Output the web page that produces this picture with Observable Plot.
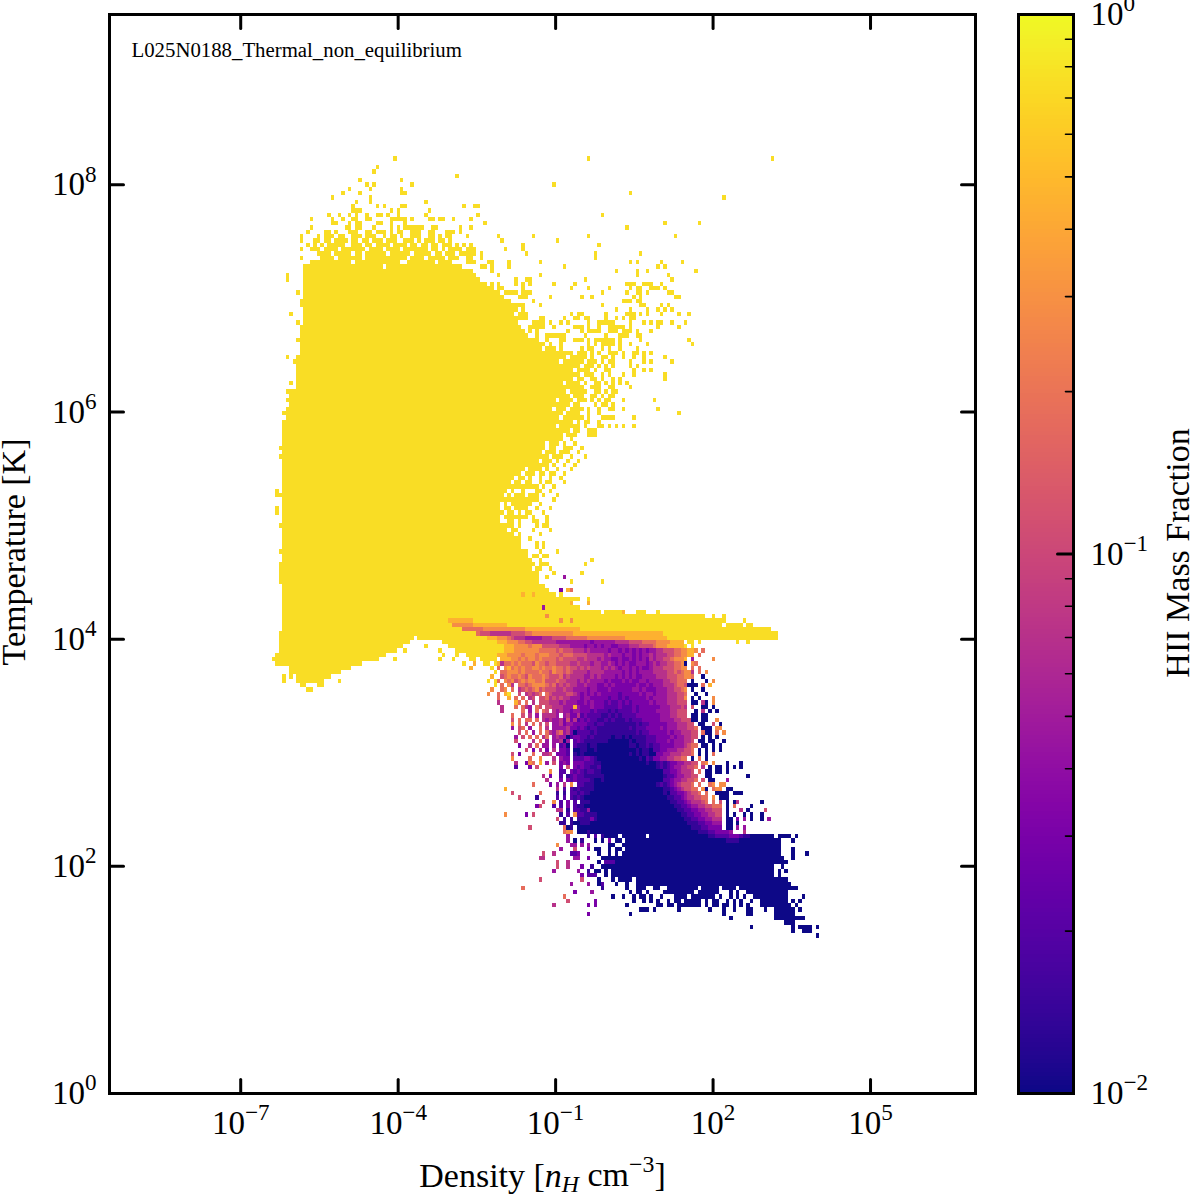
<!DOCTYPE html>
<html><head><meta charset="utf-8">
<style>html,body{margin:0;padding:0;background:#fff}svg{display:block}</style>
<script src="https://cdn.jsdelivr.net/npm/d3@7"></script>
<script src="https://cdn.jsdelivr.net/npm/@observablehq/plot@0.6"></script>
</head><body><div id="chart"></div>
<script>
const logDensityDomain=[-9.5,7], logTemperatureDomain=[0,9.5], binCount=250;
const densityTicks=[1e-7,1e-4,1e-1,1e2,1e5];
const temperatureTicks=[1,1e2,1e4,1e6,1e8];
const colorbarMajor=[0.01,0.1,1];
const colorbarMinor=[.02,.03,.04,.05,.06,.07,.08,.09,.2,.3,.4,.5,.6,.7,.8,.9];
const ionisedValue=0.74;
const hiiLevels=[0.01,0.014,0.02,0.03,0.045,0.07,0.11,0.18,0.28,0.45];
// 2D histogram. [temperature bin, first density bin, last density bin]
const ionisedSpans=[[93,57,58],[94,55,56],[94,60,61],[95,54,61],[96,54,63],[97,52,66],[98,52,69],[99,48,72],[100,47,77],[101,48,78],[102,49,81],[103,49,84],[104,49,86],[105,49,86],[105,89,192],[106,49,192],[107,50,190],[108,50,176],[109,50,174],[110,50,167],[111,50,137],[112,50,135],[113,50,133],[114,50,132],[115,50,128],[116,50,126],[117,50,124],[118,49,123],[119,49,122],[120,49,122],[121,49,121],[122,49,119],[123,50,120],[124,50,119],[125,50,118],[126,50,117],[127,50,116],[128,50,115],[129,50,114],[130,50,113],[131,50,112],[132,50,111],[133,50,111],[134,50,111],[135,50,111],[136,50,111],[137,50,112],[138,49,113],[139,50,114],[140,50,115],[141,50,115],[142,50,116],[143,50,118],[144,50,119],[145,50,121],[146,50,123],[147,50,124],[148,50,124],[149,50,125],[150,50,125],[151,50,125],[152,50,126],[153,50,126],[154,50,125],[155,51,125],[156,51,125],[157,51,125],[158,51,125],[159,52,126],[160,52,126],[161,52,127],[162,54,127],[163,54,128],[164,54,127],[165,54,127],[166,54,128],[167,54,128],[168,54,128],[169,54,128],[170,54,128],[171,55,127],[172,55,123],[173,55,122],[174,55,120],[175,55,120],[176,55,119],[177,55,118],[178,56,117],[179,56,117],[180,56,116],[181,56,116],[182,56,115],[183,56,114],[184,56,113],[185,56,112],[186,56,110],[187,56,108],[188,56,106],[189,56,105],[190,56,104]];
// scattered ionised cells per temperature bin
const ionisedScatter=[[216,"82 138 191"],[214,"77"],[213,"76"],[212,"100"],[211,"72 84"],[210,"74 76 87 128"],[209,"69 75 84"],[208,"67 72 84-85 150"],[207,"64 75 177"],[206,"71 75 91"],[205,"70 77 79 84-85 102 105-106"],[204,"70-72 81 83 92"],[203,"63 66 69 71 74 77-78 80 83 91 106 142"],[202,"58 64 67 70-71 74-75 81-85 87 92-93 95-96 99 104"],[201,"64-65 69 71-72 77-78 81 85 108 160 170"],[200,"58 68-69 71-72 76 81 83 85-90 93-94 101 104 149"],[199,"57 62-63 65 69-71 74-75 77-79 81 83-84 87-89 92-93 97-98 99 101"],[198,"55 60 62-64 66-67 70-72 74-76 79 81-82 84 87-89 92-93 95 97-98 103 112 122 138 163"],[197,"55 59-60 62-63 65-68 70-71 73-74 76-78 80-82 85-87 89 91-93 95-96 98 113 129"],[196,"57 59 61 63-67 70-72 74-75 77-80 82-85 87-88 90-91 93-94 96-98 100 102 104 119 141"],[195,"55 58-60 62-65 67-69 70-73 75-78 80-83 85-91 93-94 96 98-101 103-105 114 119"],[194,"60-63 65-69 71-72 74-79 81-86 88-92 94-95 97-99 101-105 107 120 140 153"],[193,"55 61-64 66-72 74-85 87-90 92-96 98-100 103-104 107 140"],[192,"58-69 71-83 86-93 95-98 103-105 109-110 115 124 150 152 159 165"],[191,"56-78 80-101 107-108 110 115 131 158 160"],[190,"110 146 152 155 169"],[189,"51 112 124 152 161"],[188,"51 117 120-121 137 162"],[187,"108 110 112 117 119 121 128 134 149-151 154-156 159"],[186,"112 113 119 133 138 144 150 152-153 156-158 160"],[185,"54 114-117 119-121 142 149 152-153 155 161-162"],[184,"118-120 127 136 139 151 153 163-164"],[183,"55 115 122 148-150 152-153"],[182,"55 116-119 124 142 153-154 159 161"],[181,"115 117 119 146 150 155 158 160 162"],[180,"52 118-120 133 135-136 143 149-151 153 155 159 164 167"],[179,"118-120 124-125 131 134-135 137-138 143 146 148 150-151"],[178,"54 122-125 127 130 132 138 141-145 150 154 156 158-159 162 166"],[177,"121-125 128 134-136 138 141 144-148 150 158 164"],[176,"119 121 123 132 136 138-141 144-146 148-150 152 156"],[175,"119-120 123 126-131 137 143 147-149 152-153"],[174,"54 120-121 122-123 126 130 131 134-136 138 140 141-145 147 153 167"],[173,"122-124 125 127 130 138 140 142-145 147 150 155 168"],
[172,"124 126-128 130 136 138-139 142 144 147 152"],[171,"128-133 135-137 139 141 144-146 148 151-152 154 156"],[170,"51 129-131 133-137 139 142-143 145 148 151 154 160"],[169,"53 129 131-136 138-140 142 144-145 150 154 156 162"],[168,"129-135 137-139 141 143 145 150 152"],[167,"129-133 135-138 140 143-144 151 154 156"],[166,"129-135 137-139 142 144 148 151 160"],[165,"128-133 135-136 139-140 142 145 147 160"],[164,"52 128-130 132-135 137 140-141 143 145 147 149"],[163,"129-136 139-141 144-145 150"],[162,"51-53 128-131 133-137 140-141 143 145-146"],[161,"128-132 134-136 139-140 142 144-145"],[160,"51 127-128 130-133 135-137 139 141 143-144 148 157"],[159,"127-132 134-135 140 142-143 145"],[158,"51 126-127 129-131 133-136 138 141 144-145 148 158"],[157,"50 126-130 132-135 138 141 164"],[156,"126-129 131-136 138 142-145 151"],[155,"50 126-133 135 137-138 141"],[154,"50 126-128 130-135 137 141-142 144 146 148 151"],[153,"127-132 134-135 138-140"],[152,"127-130 132-134 138-140"],[151,"126-130 133"],[150,"127-129 131 134"],[149,"49 127-128 131-133 136"],[148,"126-128 130-132 135"],[147,"49 125-126 128-130 133 137"],[146,"125-127 129 132 135"],[145,"122-125 126 128 131 134"],[144,"121-124 126 129 133"],[143,"120-122 124-125 127-128 131"],[142,"118-119 121 124 127 130"],[141,"117-118 120-121 124 126-127 131"],[140,"116-117 118-119 120-123 125 128"],[139,"48 116 119 123-124 127"],[138,"48 115 117-119 121-123 125 129"],[137,"113-115 116-119 120-123 128"],[136,"112 114 116-118 119-121 124"],[135,"48 112 114-115 117-120 123 127"],[134,"48 112-113 115-116 118 120-121 125"],[133,"112 114-118 119-120 122 126"],[132,"112 115-116 118 122-123 126"],[131,"49 113-116 118 123 125-126"],[130,"114 116-117 122 127"],[129,"115-116 118 124"],[128,"116-118 121"],[127,"115 117-118 123 125"],[126,"117-118 123 125"],[125,"49 119-120 124 129"],[124,"118-120 122-123 125-126"],[123,"120-121 124 139"],[122,"120-122 124-126 137"],[121,"123-124 127"],[120,"123 128 136"],[119,"123 126"],[118,"133 142"],[117,"125"],[116,"122 126"],[115,"125 130"],[114,"133-135 138"],[113,"138"],[111,"138-140 141 143-146 147 152-154 158"],[110,"168-170 171 174 177"],[109,"175-177 183"],[108,"178-179 180-182 184-185"],[105,"87"],[103,"91"],[102,"82 85 95"],[101,"75 79"],[100,"82 95 99"],[96,"50 52"],[95,"50 66"],[94,"61"]];
// [temperature bin, density bin, level]
const warmScatter=[[119,131,4],[116,130,3],[116,132,9],[116,133,7],[115,119,9],[115,122,9],[113,133,9],[113,138,9],[112,125,4],[111,148,9],[110,126,8],[109,130,8],[109,133,8]];
// cold-gas part of the histogram: ten density bins per chunk from coolStart; digits index hiiLevels, y = ionised
const coolStart=96, coolTop=109;
const coolRows=[
"  9999999 ",
"   8888889|999999999 ",
"      7777|7788888888|8888999999|9999999999",
"          |7666555555|6666778888|8888888899|9999999999|9999999999|9999",
"          |   9998887|6555444445|5566667777|7788888888|8889999999|99999",
"yyyyyyyyyy|yyyyyy9998|8877665555|5554444444|4443444444|5555666677|7788889999| yy y     |     y  y ",
"  yyyyyyyy|yyyyyyyy99|9888878886|6666555444|4344343443|3444555666|6788899999|y y       ",
"    yyyyyy|yyyyyyyy99|9888888877|7776766655|5454444434|4343434343|4455666778|8998 7    ",
"y   y  yyy|yyyyyy9998|8887888788|8777677766|6655555454|4434434344|5455566778|899 7     ",
"        yy| yyyyy 999|8878788787|7776766665|5655545443|3433434343|5455667888|9 4     8 ",
"      y  9|  yy y9577|8787776877|6776666556|5554554454|3434334443|4545566778|0 87      ",
"        9 |    y 7 89|7878778878|7787767665|6565554545|4344343433|4555666778|8 7 7     ",
"          |     y 778|8878777787|7687767655|5545555444|4434343444|4555566767|885 7 8   ",
"          |    9  678|7787687778|7666756555|5445454444|3434343344|4455566677|887  0    ",
"          |   y y7 87|8678788778|6667665554|5454444343|3343433443|4444556677|7 0   0 8 ",
"          |     y 7 8|5 77678888|7675656554|4544433434|3333334334|3444555677|6000 7 9  ",
"          |    8  78 |7 56767867|6665565544|4434433343|3333344343|3344455667|8 0  0    ",
"          |   8  7 9y|  6 56567 |7655556654|3434343333|3233333434|4344455566|7  0  0   ",
"          |      7  9| 7 7 56 66|7565655444|3443333323|3232333334|3444455566|8 0 0   8 ",
"          |      5   | 97 7 5 66|6555454443|3434333232|2323233333|4344455566|6 00 50 8 ",
"          |       5  | 7 754 76 |6655544494|3334333222|2322232333|3334445556|5 6  00 0 ",
"          |       5  |   7 4 7 7|6 54544344|3332322212|1222232333|3344445566|6  0 5 0 0",
"          |          |7  6 5 4 5|5554 45335|2322221121|2122223333|3334445566|6 00 00   ",
"          |          |6 7 77 7 5|4544536352|3232211212|1112122233|3334444556|6600 00  8",
"          |          |8 7 5 7 6 |6 44534433|3322122111|1111112122|3333344455|566 00  6 |0",
"          |          |4 67 4  7 |5 44445332|3212211111|1111212223|3334344455|5667 000 8|8",
"          |          |  6 7 4 7 |7546745302|2221211111|1111112122|3333343445|5566 700 7| 8",
"          |          | 4 6 7 7 5|7 45440233|2212111110|1101011112|2233334344|5566 0 0 0",
"          |          | 6    5 7 |4 44504 23|2111111100|0000101112|2233343444|556 00 00 | 0",
"          |          |  3  5 7 4|4 4 230 21|1101100000|0000110112|1223333444|5677 00 0 |0",
"          |          |    6 3 5 |3 5 332 00|1100100000|0000001011|0223344455|667 0 0 0 |0",
"          |          |6 3   7  5|56 3332 10|1000000000|0000101011|0033445556|667 0 0 7 ",
"          |          |8    7  8 |  5 433 22|2332100000|0000000102|1334455667|7 0 7 0   ",
"          |          | 5  387 9 |4 6 343 33|3222110000|0000000001|0012123344|5566 78 8 |  0   0 ",
"          |          | 2   3 6  |    3 6 32|3221120000|0000000000|0012123445|5667 5 0 0|0 0 0 0   ",
"          |          |          | 8  22 323|2122110000|0000000000|0000223345|556 7 00 0|0 0       ",
"          |          |         5| 3  2 1232|2111111000|0000000000|0000122344|5566  00  |        0 ",
"          |          |          |5   3 3232|2221001000|0000000000|0000223445|5667 6 00 |  4       ",
"          |          |      7   | 3 4 5 8 2|2111000000|0000000000|0012123456|667 7  78 |88        ",
"          |        9 |          |   5 2 212|1111000000|0000000000|0000112345|6677 80 78|8 00      ",
"          |          |6       7 |   1 1 221|2110000000|0000000000|0000102233|45667 7  0|000 000   ",
"          |          |  6    1  |   2 2 212|1000000000|0000000000|0000011223|4556677 8 |000       ",
"          |          |         6|  8 2 3 2 |1110000000|0000000000|0000001122|3455567 7 |6 0 05    |  0",
"          |          |       36 |  2 2 3 21|1000000000|0000000000|0000000112|2344556677|7 0 7    0",
"          |          |          |   55 1 22|1140000000|0000000000|0000000011|2233445566|6 0   5 0 |   6      ",
"          |        8 |    3 6   |    1 2 82|2111100000|0000000000|0000000001|1223344556|6 0 0  0 0|  0       ",
"          |          |          |   6 1 1 1|1113100000|0000000000|0000000000|1122334455|5 00 3 4 0|  0 4     ",
"          |          |          |    11 100|1110000000|0000000000|0000000000|0111223344|4 00 0    |          ",
"          |          |     6    |     701 0|0000000000|0000000000|0000000000|0011122333|3 00 4 4  |          ",
"          |          |          |     788 0|0010000000|0000000000|0000000000|0000111223|3334   5  |          ",
"          |          |          |      4   |  1 2 1000|0 0000000 |0000000000|0000000112|2223332110|000000 000|0 0",
"          |          |          |      4 0 |1   0 0 3 |00 0000000|0000000000|0000000000|0011110000|00000000  | 0",
"          |          |          |   8   44 |4 4     00|  00000000|0000000000|0000000000|0000000000|00000000  |",
"          |          |          |    4   6 |  3 00  0 |00 0000000|0000000000|0000000000|0000000000|00000000  | 0",
"          |          |         6|  5    223|     0  0 |0 00000000|0000000000|0000000000|0000000000|00000000  | 0   0",
"          |          |        55|        44|  3   0000|0000000000|0000000000|0000000000|0000000000|000000000 | 0",
"          |          |          |   6  5   |     0 222|0000000000|0000000000|0000000000|0000000000|0000000000|",
"          |          |          |   6  5   |3  1  0000|0000000000|0000000000|0000000000|0000000000|000000  0 |",
"          |          |          |  4      4|  1 00 0 0|0000000000|0000000000|0000000000|0000000000|000000 0 0|",
"          |          |          |          |3 222  0 0|0000000000|0000000000|0000000000|0000000000|000000 0  |",
"          |          |        6 |          |6    0   0| 0000 0000|0000000000|0000000000|0000000000|0000000000|",
"          |          |          |       4  |  4  02   |0  0  0000|0000000000|0000000000|0000000000|0000000000|0",
"          |          |   7      |          |      1   |   0  000 | 00  00000|0000 00000| 0000 0000|0000000000|000",
"          |          |          |        3 |   4      |    0 00 0|    000000|000 000000|   0 0  00|0000000000|",
"          |          |          |     7    |         0|  0  0 00 |0  0   000|0 0000000 |0  0 0 0  |0000000000|    0",
"          |          |          |      6   |    3     |     0  0 |0 0  0 00 |00000 0 00|  0 0 0  0|  00000000| 0 0",
"          |          |          |  5       |  3 3     |   0      |  00 00 00|00000 0 00| 00 0 0 0 |  00000000|0 0",
"          |          |          |          |          |       000| 0      0 |       0  | 0  0   00|   0  0000|00 0",
"          |          |          |          |  3       |    0     |          |          | 0      00|      0000|00",
"          |          |          |          |          |          |          |          |   0      |      0000|00000",
"          |          |          |          |          |          |          |          |          |         0|00",
"          |          |          |          |          |          |          |          |         0|          | 0 0000 0",
"          |          |          |          |          |          |          |          |          |          | 0  000",
"          |          |          |          |          |          |          |          |          |          |        0"
];

const dx=(logDensityDomain[1]-logDensityDomain[0])/binCount;
const dy=(logTemperatureDomain[1]-logTemperatureDomain[0])/binCount;
const cell=(j,i0,i1,v)=>({x1:10**(logDensityDomain[0]+i0*dx),x2:10**(logDensityDomain[0]+(i1+1)*dx),y1:10**(logTemperatureDomain[0]+j*dy),y2:10**(logTemperatureDomain[0]+(j+1)*dy),v});
const cells=[];
for(const [j,a,b] of ionisedSpans) cells.push(cell(j,a,b,ionisedValue));
for(const [j,s] of ionisedScatter) for(const t of s.split(" ")){const [a,b=a]=t.split("-").map(Number);cells.push(cell(j,a,b,ionisedValue));}
coolRows.forEach((r,k)=>{const s=r.split("|").map(g=>g.padEnd(10).slice(0,10)).join("");[...s].forEach((ch,c)=>{if(ch===" ")return;cells.push(cell(coolTop-k,coolStart+c,coolStart+c,ch==="y"?ionisedValue:hiiLevels[+ch]));});});
for(const [j,i,l] of warmScatter) cells.push(cell(j,i,i,hiiLevels[l]));

const xMin=10**logDensityDomain[0],xMax=10**logDensityDomain[1],yMin=10**logTemperatureDomain[0],yMax=10**logTemperatureDomain[1];
const tickShape={draw(c,l){c.moveTo(0,0);c.lineTo(0,-l);}};
const expo=d=>"10^"+String(Math.round(Math.log10(d))).replace("-","\u2212");
const serif="Liberation Serif";
const LEFT=109,RIGHT=225,TOP=14,BOTTOM=107;

const bar=()=>{
  const ramp=d3.range(256).map(k=>({y1:10**(-2+k*2/256),y2:10**(-2+(k+1)*2/256),v:10**(-2+(k+.5)*2/256)}));
  return Plot.plot({width:1200,height:1200,marginLeft:1018,marginRight:127,marginTop:TOP,marginBottom:BOTTOM,
    style:{background:"none",fontFamily:serif},
    y:{type:"log",domain:[.01,1],axis:null},
    color:{type:"log",domain:[.01,1],scheme:"plasma"},
    marks:[
      Plot.rect(ramp,{y1:"y1",y2:"y2",fill:"v",shapeRendering:"crispEdges"}),
      Plot.axisY({anchor:"right",ticks:colorbarMajor,tickSize:0,tickPadding:17,tickFormat:expo,fontSize:33,label:null,fill:"black"}),
      Plot.vector(colorbarMajor,{y:d=>d,frameAnchor:"right",length:16,rotate:-90,anchor:"start",shape:tickShape,stroke:"black",strokeWidth:3}),
      Plot.vector(colorbarMinor,{y:d=>d,frameAnchor:"right",length:8,rotate:-90,anchor:"start",shape:tickShape,stroke:"black",strokeWidth:1.6}),
      Plot.frame({stroke:"black",strokeWidth:3}),
      Plot.text(["HII Mass Fraction"],{frameAnchor:"right",textAnchor:"middle",dx:105,dy:-1,rotate:-90,fontSize:34,fill:"black",lineWidth:100})
    ]});
};

const svg=Plot.plot({width:1200,height:1200,marginLeft:LEFT,marginRight:RIGHT,marginTop:TOP,marginBottom:BOTTOM,
  style:{background:"white",fontFamily:serif,color:"black"},
  x:{type:"log",domain:[xMin,xMax],axis:null},
  y:{type:"log",domain:[yMin,yMax],axis:null},
  color:{type:"log",domain:[.01,1],scheme:"plasma"},
  marks:[
    Plot.rect(cells,{x1:"x1",x2:"x2",y1:"y1",y2:"y2",fill:"v",shapeRendering:"crispEdges"}),
    Plot.axisX({anchor:"bottom",ticks:densityTicks,tickSize:0,tickPadding:17,tickFormat:expo,fontSize:33,label:null}),
    Plot.axisY({anchor:"left",ticks:temperatureTicks,tickSize:0,tickPadding:13,tickFormat:expo,fontSize:33,label:null}),
    Plot.vector(densityTicks,{x:d=>d,y:()=>yMin,length:14,rotate:0,anchor:"start",shape:tickShape,stroke:"black",strokeWidth:3}),
    Plot.vector(densityTicks,{x:d=>d,y:()=>yMax,length:14,rotate:180,anchor:"start",shape:tickShape,stroke:"black",strokeWidth:3}),
    Plot.vector(temperatureTicks,{x:()=>xMin,y:d=>d,length:14,rotate:90,anchor:"start",shape:tickShape,stroke:"black",strokeWidth:3}),
    Plot.vector(temperatureTicks,{x:()=>xMax,y:d=>d,length:14,rotate:-90,anchor:"start",shape:tickShape,stroke:"black",strokeWidth:3}),
    Plot.frame({stroke:"black",strokeWidth:3}),
    Plot.text(["L025N0188_Thermal_non_equilibrium"],{frameAnchor:"top-left",dx:22,dy:28,fontSize:20.8,fill:"black",lineWidth:100}),
    Plot.text(["Density [n_H cm^\u22123]"],{frameAnchor:"bottom",dy:93,fontSize:34,fill:"black",lineWidth:100}),
    Plot.text(["Temperature [K]"],{frameAnchor:"left",textAnchor:"middle",dx:-95,dy:-2,rotate:-90,fontSize:34,fill:"black",lineWidth:100}),
    bar
  ]});

function rich(t,parts){t.textContent="";for(const [s,kind] of parts){const n=document.createElementNS("http://www.w3.org/2000/svg","tspan");n.textContent=s;
  if(kind==="sup"){n.setAttribute("dy","-0.6em");n.setAttribute("font-size","0.7em");}
  if(kind==="sub"){n.setAttribute("dy","0.25em");n.setAttribute("font-size","0.7em");n.setAttribute("font-style","italic");}
  if(kind==="it"){n.setAttribute("font-style","italic");}
  if(kind==="back"){n.setAttribute("dy","-0.18em");}
  if(kind==="back2"){n.setAttribute("dy","0.42em");}
  t.appendChild(n);}}
for(const t of svg.querySelectorAll("text")){
  const s=t.textContent;
  const m=s.match(/^10\^(.+)$/);
  if(m) rich(t,[["10"],[m[1],"sup"]]);
  if(s.startsWith("Density")){rich(t,[["Density ["],["n","it"],["H","sub"],[" cm","back"],["\u22123","sup"],["]","back2"]]);}
}
document.getElementById("chart").appendChild(svg);
</script></body></html>
